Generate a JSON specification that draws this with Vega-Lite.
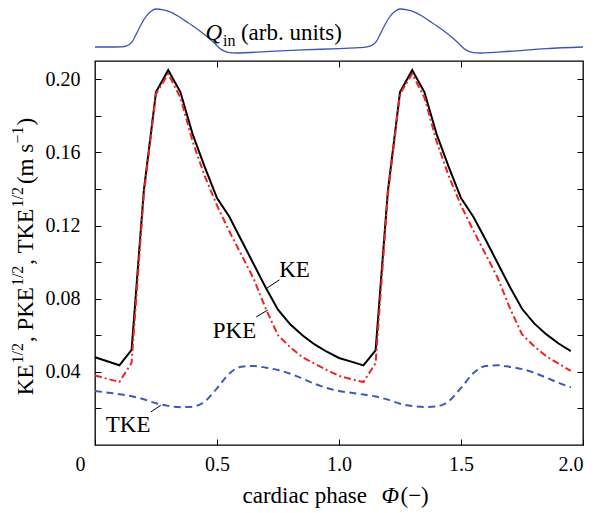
{
  "$schema": "https://vega.github.io/schema/vega-lite/v6.json",
  "width": 488,
  "height": 384,
  "autosize": "none",
  "padding": {"left": 95, "top": 61, "right": 12, "bottom": 68},
  "background": "white",
  "config": {
    "view": {"stroke": "#000", "strokeWidth": 1.3},
    "axis": {
      "labelFont": "Liberation Serif",
      "labelFontSize": 20,
      "labelColor": "#000",
      "tickColor": "#000",
      "tickWidth": 1,
      "domain": false,
      "grid": false
    },
    "text": {"font": "Liberation Serif", "fontSize": 23, "color": "#000"},
    "rule": {"color": "#000", "strokeWidth": 1}
  },
  "datasets": {
    "phase": [
      {"phase": 0.00, "KE": 0.0480, "PKE": 0.0380, "TKE": 0.0295},
      {"phase": 0.05, "KE": 0.0458, "PKE": 0.0362, "TKE": 0.0287},
      {"phase": 0.10, "KE": 0.0436, "PKE": 0.0345, "TKE": 0.0278},
      {"phase": 0.15, "KE": 0.0520, "PKE": 0.0450, "TKE": 0.0267},
      {"phase": 0.20, "KE": 0.1390, "PKE": 0.1370, "TKE": 0.0250},
      {"phase": 0.25, "KE": 0.1930, "PKE": 0.1920, "TKE": 0.0228},
      {"phase": 0.30, "KE": 0.2050, "PKE": 0.2030, "TKE": 0.0214},
      {"phase": 0.35, "KE": 0.1930, "PKE": 0.1900, "TKE": 0.0207},
      {"phase": 0.40, "KE": 0.1700, "PKE": 0.1660, "TKE": 0.0210},
      {"phase": 0.45, "KE": 0.1520, "PKE": 0.1470, "TKE": 0.0238},
      {"phase": 0.50, "KE": 0.1350, "PKE": 0.1310, "TKE": 0.0310},
      {"phase": 0.55, "KE": 0.1250, "PKE": 0.1170, "TKE": 0.0390},
      {"phase": 0.60, "KE": 0.1120, "PKE": 0.1040, "TKE": 0.0428},
      {"phase": 0.65, "KE": 0.0990, "PKE": 0.0910, "TKE": 0.0432},
      {"phase": 0.70, "KE": 0.0860, "PKE": 0.0745, "TKE": 0.0423},
      {"phase": 0.75, "KE": 0.0740, "PKE": 0.0600, "TKE": 0.0410},
      {"phase": 0.80, "KE": 0.0660, "PKE": 0.0535, "TKE": 0.0390},
      {"phase": 0.85, "KE": 0.0600, "PKE": 0.0480, "TKE": 0.0363},
      {"phase": 0.90, "KE": 0.0550, "PKE": 0.0445, "TKE": 0.0335},
      {"phase": 0.95, "KE": 0.0510, "PKE": 0.0410, "TKE": 0.0312},
      {"phase": 1.00, "KE": 0.0476, "PKE": 0.0378, "TKE": 0.0295},
      {"phase": 1.05, "KE": 0.0456, "PKE": 0.0360, "TKE": 0.0286},
      {"phase": 1.10, "KE": 0.0435, "PKE": 0.0344, "TKE": 0.0276},
      {"phase": 1.15, "KE": 0.0518, "PKE": 0.0448, "TKE": 0.0265},
      {"phase": 1.20, "KE": 0.1385, "PKE": 0.1365, "TKE": 0.0248},
      {"phase": 1.25, "KE": 0.1930, "PKE": 0.1920, "TKE": 0.0226},
      {"phase": 1.30, "KE": 0.2050, "PKE": 0.2030, "TKE": 0.0213},
      {"phase": 1.35, "KE": 0.1930, "PKE": 0.1900, "TKE": 0.0208},
      {"phase": 1.40, "KE": 0.1700, "PKE": 0.1660, "TKE": 0.0211},
      {"phase": 1.45, "KE": 0.1520, "PKE": 0.1470, "TKE": 0.0240},
      {"phase": 1.50, "KE": 0.1350, "PKE": 0.1310, "TKE": 0.0312},
      {"phase": 1.55, "KE": 0.1250, "PKE": 0.1175, "TKE": 0.0392},
      {"phase": 1.60, "KE": 0.1125, "PKE": 0.1045, "TKE": 0.0432},
      {"phase": 1.65, "KE": 0.0995, "PKE": 0.0915, "TKE": 0.0436},
      {"phase": 1.70, "KE": 0.0865, "PKE": 0.0750, "TKE": 0.0427},
      {"phase": 1.75, "KE": 0.0745, "PKE": 0.0605, "TKE": 0.0415},
      {"phase": 1.80, "KE": 0.0665, "PKE": 0.0540, "TKE": 0.0395},
      {"phase": 1.85, "KE": 0.0605, "PKE": 0.0485, "TKE": 0.0368},
      {"phase": 1.90, "KE": 0.0555, "PKE": 0.0445, "TKE": 0.0340},
      {"phase": 1.95, "KE": 0.0513, "PKE": 0.0405, "TKE": 0.0316}
    ],
    "inflow": [
      {"phase": 0.00, "q": 0.136}, {"phase": 0.06, "q": 0.136}, {"phase": 0.11, "q": 0.14},
      {"phase": 0.13, "q": 0.16}, {"phase": 0.15, "q": 0.24}, {"phase": 0.17, "q": 0.44},
      {"phase": 0.19, "q": 0.66}, {"phase": 0.21, "q": 0.84}, {"phase": 0.23, "q": 0.95},
      {"phase": 0.25, "q": 1.0}, {"phase": 0.28, "q": 0.98}, {"phase": 0.31, "q": 0.93},
      {"phase": 0.34, "q": 0.84}, {"phase": 0.37, "q": 0.73}, {"phase": 0.40, "q": 0.62},
      {"phase": 0.43, "q": 0.5}, {"phase": 0.46, "q": 0.37}, {"phase": 0.49, "q": 0.22},
      {"phase": 0.52, "q": 0.07}, {"phase": 0.55, "q": 0.01}, {"phase": 0.58, "q": 0.0},
      {"phase": 0.70, "q": 0.03}, {"phase": 0.85, "q": 0.07}, {"phase": 1.00, "q": 0.10},
      {"phase": 1.08, "q": 0.12}, {"phase": 1.11, "q": 0.135},
      {"phase": 1.13, "q": 0.16}, {"phase": 1.15, "q": 0.24}, {"phase": 1.17, "q": 0.44},
      {"phase": 1.19, "q": 0.66}, {"phase": 1.21, "q": 0.84}, {"phase": 1.23, "q": 0.95},
      {"phase": 1.25, "q": 1.0}, {"phase": 1.28, "q": 0.98}, {"phase": 1.31, "q": 0.93},
      {"phase": 1.34, "q": 0.84}, {"phase": 1.37, "q": 0.73}, {"phase": 1.40, "q": 0.62},
      {"phase": 1.43, "q": 0.5}, {"phase": 1.46, "q": 0.37}, {"phase": 1.49, "q": 0.22},
      {"phase": 1.52, "q": 0.07}, {"phase": 1.55, "q": 0.01}, {"phase": 1.58, "q": 0.0},
      {"phase": 1.70, "q": 0.04}, {"phase": 1.85, "q": 0.10}, {"phase": 2.00, "q": 0.136}
    ]
  },
  "layer": [
    {
      "data": {"name": "phase"},
      "layer": [
        {
          "mark": {"type": "line", "color": "#000", "strokeWidth": 2},
          "encoding": {
            "x": {
              "field": "phase", "type": "quantitative",
              "scale": {"domain": [0, 2], "nice": false},
              "axis": {
                "orient": "bottom", "title": null,
                "values": [0, 0.5, 1, 1.5, 2],
                "labelExpr": "datum.value == 0 ? '0' : format(datum.value, '.1f')",
                "tickSize": -6, "labelPadding": 15,
                "labelOffset": {"condition": {"test": "datum.value == 0", "value": -20}, "value": 0}
              }
            },
            "y": {
              "field": "KE", "type": "quantitative",
              "scale": {"domain": [0, 0.21], "nice": false},
              "axis": {
                "orient": "left", "title": null,
                "values": [0.02, 0.04, 0.06, 0.08, 0.1, 0.12, 0.14, 0.16, 0.18, 0.2],
                "labelExpr": "round(datum.value * 50) % 2 == 0 ? format(datum.value, '.2f') : ''",
                "tickSize": -6, "labelPadding": 21
              }
            }
          }
        },
        {
          "mark": {"type": "line", "color": "#ee2424", "strokeWidth": 2, "strokeDash": [7, 3, 2, 3]},
          "encoding": {
            "x": {
              "field": "phase", "type": "quantitative",
              "axis": {"orient": "top", "title": null, "labels": false, "values": [0.5, 1, 1.5], "tickSize": -6}
            },
            "y": {
              "field": "PKE", "type": "quantitative",
              "axis": {
                "orient": "right", "title": null, "labels": false,
                "values": [0.02, 0.04, 0.06, 0.08, 0.1, 0.12, 0.14, 0.16, 0.18, 0.2],
                "tickSize": -6
              }
            }
          }
        },
        {
          "mark": {"type": "line", "color": "#3b5bb6", "strokeWidth": 2, "strokeDash": [7, 4.5], "interpolate": "monotone"},
          "encoding": {
            "x": {"field": "phase", "type": "quantitative", "axis": null},
            "y": {"field": "TKE", "type": "quantitative", "axis": null}
          }
        },
        {
          "data": {"values": [{}]},
          "layer": [
            {
              "mark": {"type": "rule"},
              "encoding": {
                "x": {"datum": 0.701, "type": "quantitative", "axis": null},
                "y": {"datum": 0.0855, "type": "quantitative", "axis": null},
                "x2": {"datum": 0.756}, "y2": {"datum": 0.0903}
              }
            },
            {
              "mark": {"type": "rule"},
              "encoding": {
                "x": {"datum": 0.661, "type": "quantitative", "axis": null},
                "y": {"datum": 0.0701, "type": "quantitative", "axis": null},
                "x2": {"datum": 0.708}, "y2": {"datum": 0.0738}
              }
            },
            {
              "mark": {"type": "rule"},
              "encoding": {
                "x": {"datum": 0.229, "type": "quantitative", "axis": null},
                "y": {"datum": 0.0181, "type": "quantitative", "axis": null},
                "x2": {"datum": 0.27}, "y2": {"datum": 0.0218}
              }
            },
            {
              "mark": {"type": "text", "text": "KE", "align": "left", "baseline": "middle"},
              "encoding": {
                "x": {"datum": 0.755, "type": "quantitative", "axis": null},
                "y": {"datum": 0.0956, "type": "quantitative", "axis": null}
              }
            },
            {
              "mark": {"type": "text", "text": "PKE", "align": "right", "baseline": "middle"},
              "encoding": {
                "x": {"datum": 0.661, "type": "quantitative", "axis": null},
                "y": {"datum": 0.0623, "type": "quantitative", "axis": null}
              }
            },
            {
              "mark": {"type": "text", "text": "TKE", "align": "left", "baseline": "middle"},
              "encoding": {
                "x": {"datum": 0.044, "type": "quantitative", "axis": null},
                "y": {"datum": 0.0108, "type": "quantitative", "axis": null}
              }
            },
            {
              "mark": {"type": "text", "text": "cardiac phase", "align": "left", "baseline": "alphabetic"},
              "encoding": {
                "x": {"datum": 0.6045, "type": "quantitative", "axis": null},
                "y": {"datum": -0.0318, "type": "quantitative", "axis": null}
              }
            },
            {
              "mark": {"type": "text", "text": "Φ", "fontStyle": "italic", "align": "left", "baseline": "alphabetic"},
              "encoding": {
                "x": {"datum": 1.174, "type": "quantitative", "axis": null},
                "y": {"datum": -0.0318, "type": "quantitative", "axis": null}
              }
            },
            {
              "mark": {"type": "text", "text": "(−)", "align": "left", "baseline": "alphabetic"},
              "encoding": {
                "x": {"datum": 1.252, "type": "quantitative", "axis": null},
                "y": {"datum": -0.0318, "type": "quantitative", "axis": null}
              }
            },
            {
              "mark": {"type": "text", "text": "KE", "angle": 270, "align": "left", "baseline": "alphabetic"},
              "encoding": {
                "x": {"datum": -0.254, "type": "quantitative", "axis": null},
                "y": {"datum": 0.02725, "type": "quantitative", "axis": null}
              }
            },
            {
              "mark": {"type": "text", "text": "1/2", "fontSize": 16, "angle": 270, "align": "left", "baseline": "alphabetic"},
              "encoding": {
                "x": {"datum": -0.297, "type": "quantitative", "axis": null},
                "y": {"datum": 0.0446, "type": "quantitative", "axis": null}
              }
            },
            {
              "mark": {"type": "text", "text": ", PKE", "angle": 270, "align": "left", "baseline": "alphabetic"},
              "encoding": {
                "x": {"datum": -0.254, "type": "quantitative", "axis": null},
                "y": {"datum": 0.05631, "type": "quantitative", "axis": null}
              }
            },
            {
              "mark": {"type": "text", "text": "1/2", "fontSize": 16, "angle": 270, "align": "left", "baseline": "alphabetic"},
              "encoding": {
                "x": {"datum": -0.297, "type": "quantitative", "axis": null},
                "y": {"datum": 0.08689, "type": "quantitative", "axis": null}
              }
            },
            {
              "mark": {"type": "text", "text": ", TKE", "angle": 270, "align": "left", "baseline": "alphabetic"},
              "encoding": {
                "x": {"datum": -0.254, "type": "quantitative", "axis": null},
                "y": {"datum": 0.09861, "type": "quantitative", "axis": null}
              }
            },
            {
              "mark": {"type": "text", "text": "1/2", "fontSize": 16, "angle": 270, "align": "left", "baseline": "alphabetic"},
              "encoding": {
                "x": {"datum": -0.297, "type": "quantitative", "axis": null},
                "y": {"datum": 0.1299, "type": "quantitative", "axis": null}
              }
            },
            {
              "mark": {"type": "text", "text": "(m s", "angle": 270, "align": "left", "baseline": "alphabetic"},
              "encoding": {
                "x": {"datum": -0.254, "type": "quantitative", "axis": null},
                "y": {"datum": 0.14271, "type": "quantitative", "axis": null}
              }
            },
            {
              "mark": {"type": "text", "text": "−1", "fontSize": 16, "angle": 270, "align": "left", "baseline": "alphabetic"},
              "encoding": {
                "x": {"datum": -0.297, "type": "quantitative", "axis": null},
                "y": {"datum": 0.16487, "type": "quantitative", "axis": null}
              }
            },
            {
              "mark": {"type": "text", "text": ")", "angle": 270, "align": "left", "baseline": "alphabetic"},
              "encoding": {
                "x": {"datum": -0.254, "type": "quantitative", "axis": null},
                "y": {"datum": 0.17472, "type": "quantitative", "axis": null}
              }
            }
          ]
        }
      ],
      "resolve": {"axis": {"x": "independent", "y": "independent"}}
    },
    {
      "data": {"name": "inflow"},
      "layer": [
        {
          "mark": {"type": "line", "color": "#3a56b0", "strokeWidth": 1.3, "interpolate": "monotone"},
          "encoding": {
            "x": {"field": "phase", "type": "quantitative", "axis": null},
            "y": {
              "field": "q", "type": "quantitative", "axis": null,
              "scale": {"domain": [0, 1], "range": [-8, -52], "nice": false, "zero": false}
            }
          }
        },
        {
          "data": {"values": [{}]},
          "layer": [
            {
              "mark": {"type": "text", "text": "Q", "fontStyle": "italic", "align": "left", "baseline": "alphabetic"},
              "encoding": {
                "x": {"datum": 0.453, "type": "quantitative", "axis": null},
                "y": {"datum": 0.295, "type": "quantitative", "axis": null}
              }
            },
            {
              "mark": {"type": "text", "text": "in", "fontSize": 16, "align": "left", "baseline": "alphabetic"},
              "encoding": {
                "x": {"datum": 0.525, "type": "quantitative", "axis": null},
                "y": {"datum": 0.16, "type": "quantitative", "axis": null}
              }
            },
            {
              "mark": {"type": "text", "text": "(arb. units)", "align": "left", "baseline": "alphabetic"},
              "encoding": {
                "x": {"datum": 0.598, "type": "quantitative", "axis": null},
                "y": {"datum": 0.295, "type": "quantitative", "axis": null}
              }
            }
          ]
        }
      ]
    }
  ],
  "resolve": {"scale": {"y": "independent"}, "axis": {"x": "independent", "y": "independent"}}
}
